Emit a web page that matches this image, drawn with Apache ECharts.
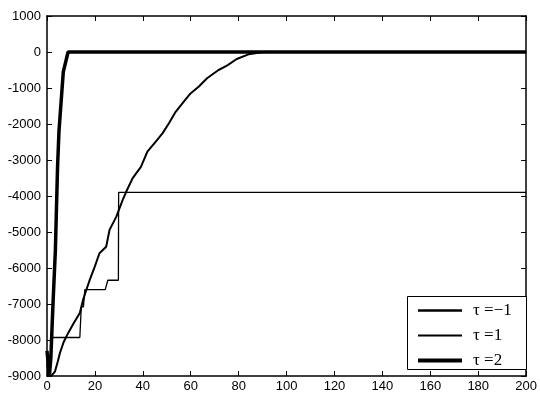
<!DOCTYPE html>
<html>
<head>
<meta charset="utf-8">
<script src="https://cdn.jsdelivr.net/npm/echarts@6/dist/echarts.min.js"></script>
<style>
  html, body { margin: 0; padding: 0; background: #fff; }
  #chart { width: 540px; height: 395px; }
</style>
</head>
<body>
<div id="chart"></div>
<script>
  // legend names
  const seriesNames = ['τ =\u22121', 'τ =1', 'τ =2']

  // tau = -1 : smooth rising curve
  const tauMinus1 = [
    [0, -9000], [2, -8980], [3.3, -8880], [4.5, -8600], [5.4, -8360], [7, -8050],
    [8.8, -7810], [11, -7550], [13.7, -7250], [15, -6900], [16.4, -6610], [18, -6300],
    [19.9, -5970], [21.9, -5590], [24.7, -5410], [26.1, -4940], [28.9, -4580],
    [31.6, -4110], [33, -3890], [35.7, -3510], [39.2, -3190], [41.9, -2770],
    [45.4, -2490], [48.2, -2260], [50.9, -1980], [53.7, -1660], [57.1, -1380],
    [59.9, -1150], [63.4, -960], [66.8, -730], [71.6, -500], [75.1, -380],
    [79.2, -195], [84.1, -65], [89.6, -10], [92, 0], [200, 0]
  ]

  // tau = 1 : step curve
  const tau1 = [
    [0, -8700], [1, -9000], [2, -7930], [13.7, -7930], [14.3, -7080], [15.2, -7080],
    [15.8, -6600], [24.3, -6600], [25.4, -6340], [29.8, -6340], [29.9, -3900], [200, -3900]
  ]

  // tau = 2 : fast rise
  const tau2 = [
    [0, -8300], [1, -9000], [1.6, -8500], [2.5, -7000], [3.5, -5500], [4.4, -3200],
    [5, -2200], [6.8, -550], [8.8, 0], [200, 0]
  ]

  const xTicks = { min: 0, max: 200, interval: 20 }
  const yTicks = { min: -9000, max: 1000, interval: 1000 }

  let chart = echarts.init(document.getElementById('chart'))

  const labelFont = { color: '#000', fontSize: 13, fontFamily: "'Liberation Sans', Arial, sans-serif" }
  const frameLine = { show: true, onZero: false, lineStyle: { color: '#000', width: 1.5 } }
  const innerTick = { show: true, inside: true, length: 5, lineStyle: { color: '#000' } }
  const widths = [2, 1.3, 3.5]

  chart.setOption({
    animation: false,
    grid: { left: 47, right: 10, top: 16, bottom: 19 },
    xAxis: [{
      type: 'value',
      min: xTicks.min, max: xTicks.max, interval: xTicks.interval,
      axisLine: frameLine,
      axisTick: innerTick,
      axisLabel: Object.assign({ margin: 4, formatter: (v) => String(v) }, labelFont),
      splitLine: { show: false }
    }, {
      type: 'value', position: 'top',
      min: xTicks.min, max: xTicks.max, interval: xTicks.interval,
      axisLine: frameLine,
      axisTick: innerTick,
      axisLabel: { show: false },
      splitLine: { show: false }
    }],
    yAxis: [{
      type: 'value',
      min: yTicks.min, max: yTicks.max, interval: yTicks.interval,
      axisLine: frameLine,
      axisTick: innerTick,
      axisLabel: Object.assign({ margin: 6, formatter: (v) => String(v) }, labelFont),
      splitLine: { show: false }
    }, {
      type: 'value', position: 'right',
      min: yTicks.min, max: yTicks.max, interval: yTicks.interval,
      axisLine: frameLine,
      axisTick: innerTick,
      axisLabel: { show: false },
      splitLine: { show: false }
    }],
    graphic: [{
      type: 'rect',
      left: 407, top: 296, z: 50,
      shape: { width: 119, height: 73 },
      style: { fill: '#fff', stroke: '#000', lineWidth: 1 }
    }],
    legend: {
      orient: 'vertical',
      left: 407, top: 297,
      z: 60,
      padding: [5, 8, 5, 9],
      itemWidth: 44, itemHeight: 14, itemGap: 8,
      itemStyle: { opacity: 0 },
      textStyle: { color: '#000', fontSize: 17, fontFamily: "'Liberation Serif', 'DejaVu Serif', serif", padding: [0, 0, 0, 6] },
      data: seriesNames.map((n, i) => ({ name: n, lineStyle: { width: widths[i] + 0.5 } }))
    },
    series: [{
      name: seriesNames[0], type: 'line', data: tauMinus1, symbol: 'none',
      lineStyle: { color: '#000', width: widths[0] }, itemStyle: { color: '#000' }
    }, {
      name: seriesNames[1], type: 'line', data: tau1, symbol: 'none',
      lineStyle: { color: '#000', width: widths[1] }, itemStyle: { color: '#000' }
    }, {
      name: seriesNames[2], type: 'line', data: tau2, symbol: 'none',
      lineStyle: { color: '#000', width: widths[2] }, itemStyle: { color: '#000' }
    }]
  })
</script>
</body>
</html>
